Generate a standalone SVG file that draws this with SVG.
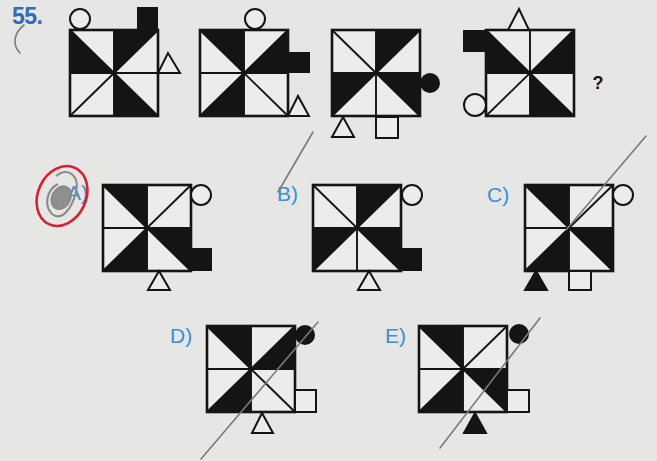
<svg xmlns="http://www.w3.org/2000/svg" xmlns:xlink="http://www.w3.org/1999/xlink" width="657" height="461" viewBox="0 0 657 461">
<style>
.k{fill:#141414;stroke:none}
.ko{fill:#141414;stroke:#141414;stroke-width:2}
.o{fill:#ececea;stroke:#141414;stroke-width:2}
.frame{fill:none;stroke:#141414;stroke-width:2.6;stroke-linejoin:miter}
.ln{stroke:#141414;stroke-width:1.9;fill:none}
.lab{font-family:"Liberation Sans",Arial,sans-serif;font-size:21px;fill:#3a8fd6}
.num{font-family:"Liberation Sans",Arial,sans-serif;font-size:23px;font-weight:bold;fill:#2f6db5;letter-spacing:-0.5px}
.q{font-family:"Liberation Sans",Arial,sans-serif;font-size:18px;font-weight:bold;fill:#141414}
.pen{fill:none;stroke:#7a7a7a;stroke-width:1.6;stroke-linecap:round}
</style>
<defs>
<g id="grid">
<line class="ln" x1="44" y1="0" x2="44" y2="86"/>
<line class="ln" x1="0" y1="43" x2="88" y2="43"/>
<line class="ln" x1="0" y1="0" x2="88" y2="86"/>
<line class="ln" x1="88" y1="0" x2="0" y2="86"/>
<rect class="frame" x="0" y="0" width="88" height="86"/>
</g>
<polygon id="TLu" points="0,0 44,0 44,43"/>
<polygon id="TLl" points="0,0 0,43 44,43"/>
<polygon id="TRu" points="44,0 88,0 44,43"/>
<polygon id="TRl" points="88,0 88,43 44,43"/>
<polygon id="BLu" points="0,43 44,43 0,86"/>
<polygon id="BLl" points="44,43 0,86 44,86"/>
<polygon id="BRu" points="44,43 88,43 88,86"/>
<polygon id="BRl" points="44,43 88,86 44,86"/>
</defs>
<rect x="0" y="0" width="657" height="461" fill="#e6e6e4"/>

<text class="num" x="12" y="24">55.</text>

<g id="fig1" transform="translate(70,30)">
<rect x="0" y="0" width="88" height="86" fill="#ececea"/>
<use xlink:href="#TLl" class="k"/>
<use xlink:href="#TRu" class="k"/>
<use xlink:href="#BRl" class="k"/>
<rect class="k" x="67" y="-23" width="21" height="24"/>
<use xlink:href="#grid"/>
<circle class="o" cx="10" cy="-11" r="10"/>
<polygon class="o" points="88,43 110,43 98,23"/>
</g>

<g id="fig2" transform="translate(200,30)">
<rect x="0" y="0" width="88" height="86" fill="#ececea"/>
<use xlink:href="#TLu" class="k"/>
<use xlink:href="#TRl" class="k"/>
<use xlink:href="#BLl" class="k"/>
<rect class="k" x="87" y="22" width="23" height="21"/>
<use xlink:href="#grid"/>
<circle class="o" cx="55" cy="-11" r="10"/>
<polygon class="o" points="88,86 109,86 98,66"/>
</g>

<g id="fig3" transform="translate(332,30)">
<rect x="0" y="0" width="88" height="86" fill="#ececea"/>
<use xlink:href="#TRu" class="k"/>
<use xlink:href="#BLu" class="k"/>
<use xlink:href="#BRu" class="k"/>
<circle class="k" cx="98" cy="53" r="10"/>
<use xlink:href="#grid"/>
<polygon class="o" points="0,107 22,107 11,87"/>
<rect class="o" x="44" y="87" width="22" height="21"/>
</g>

<g id="fig4" transform="translate(486,30)">
<rect x="0" y="0" width="88" height="86" fill="#ececea"/>
<use xlink:href="#TLl" class="k"/>
<use xlink:href="#TRl" class="k"/>
<use xlink:href="#BRl" class="k"/>
<rect class="k" x="-23" y="0" width="24" height="22"/>
<use xlink:href="#grid"/>
<polygon class="o" points="22,0 43,0 33,-21"/>
<circle class="o" cx="-11" cy="75" r="11"/>
</g>
<text class="q" x="598" y="89" text-anchor="middle">?</text>

<text class="lab" x="67" y="200">A)</text>
<g id="optA" transform="translate(103,185)">
<rect x="0" y="0" width="88" height="86" fill="#ececea"/>
<use xlink:href="#TLu" class="k"/>
<use xlink:href="#BLl" class="k"/>
<use xlink:href="#BRu" class="k"/>
<rect class="k" x="87" y="63" width="22" height="23"/>
<use xlink:href="#grid"/>
<circle class="o" cx="98" cy="10" r="10"/>
<polygon class="o" points="45,105 67,105 56,86"/>
</g>

<text class="lab" x="277" y="201">B)</text>
<g id="optB" transform="translate(313,185)">
<rect x="0" y="0" width="88" height="86" fill="#ececea"/>
<use xlink:href="#TRu" class="k"/>
<use xlink:href="#BLu" class="k"/>
<use xlink:href="#BRu" class="k"/>
<rect class="k" x="87" y="63" width="22" height="23"/>
<use xlink:href="#grid"/>
<circle class="o" cx="99" cy="10" r="10"/>
<polygon class="o" points="45,105 67,105 56,86"/>
</g>

<text class="lab" x="487" y="202">C)</text>
<g id="optC" transform="translate(525,185)">
<rect x="0" y="0" width="88" height="86" fill="#ececea"/>
<use xlink:href="#TLu" class="k"/>
<use xlink:href="#BLl" class="k"/>
<use xlink:href="#BRu" class="k"/>
<use xlink:href="#grid"/>
<circle class="o" cx="98" cy="10" r="10"/>
<polygon class="ko" points="0,105 22,105 11,86"/>
<rect class="o" x="44" y="86" width="22" height="19"/>
</g>

<text class="lab" x="170" y="343">D)</text>
<g id="optD" transform="translate(207,326)">
<rect x="0" y="0" width="88" height="86" fill="#ececea"/>
<use xlink:href="#TLu" class="k"/>
<use xlink:href="#TRl" class="k"/>
<use xlink:href="#BLl" class="k"/>
<circle class="k" cx="98" cy="9" r="10"/>
<use xlink:href="#grid"/>
<rect class="o" x="88" y="64" width="21" height="22"/>
<polygon class="o" points="45,107 66,107 55,87"/>
</g>

<text class="lab" x="385" y="343">E)</text>
<g id="optE" transform="translate(419,326)">
<rect x="0" y="0" width="88" height="86" fill="#ececea"/>
<use xlink:href="#TLu" class="k"/>
<use xlink:href="#BLl" class="k"/>
<use xlink:href="#BRu" class="k"/>
<circle class="k" cx="100" cy="8" r="10"/>
<use xlink:href="#grid"/>
<rect class="o" x="88" y="64" width="22" height="22"/>
<polygon class="ko" points="45,107 67,107 56,87"/>
</g>

<g id="annotations">
<path class="pen" d="M24,25 C15,32 11,44 20,53" stroke-width="2"/>
<path d="M56,176 C68,166 80,176 76,192 C72,208 62,222 52,214 C44,206 46,190 58,184" fill="none" stroke="#8c8c8c" stroke-width="2.2"/>
<path d="M56,190 C64,182 74,188 70,200 C66,210 56,212 52,204 C50,198 52,194 56,190 Z" fill="#8f8f8f" stroke="#8a8a8a" stroke-width="2"/>
<ellipse cx="62" cy="196" rx="24" ry="31" transform="rotate(25 62 196)" fill="none" stroke="#d42134" stroke-width="2.6"/>
<line class="pen" x1="313" y1="132" x2="278" y2="192"/>
<line class="pen" x1="646" y1="136" x2="566" y2="230"/>
<line class="pen" x1="318" y1="322" x2="201" y2="459"/>
<line class="pen" x1="540" y1="318" x2="440" y2="448"/>
</g>
</svg>
